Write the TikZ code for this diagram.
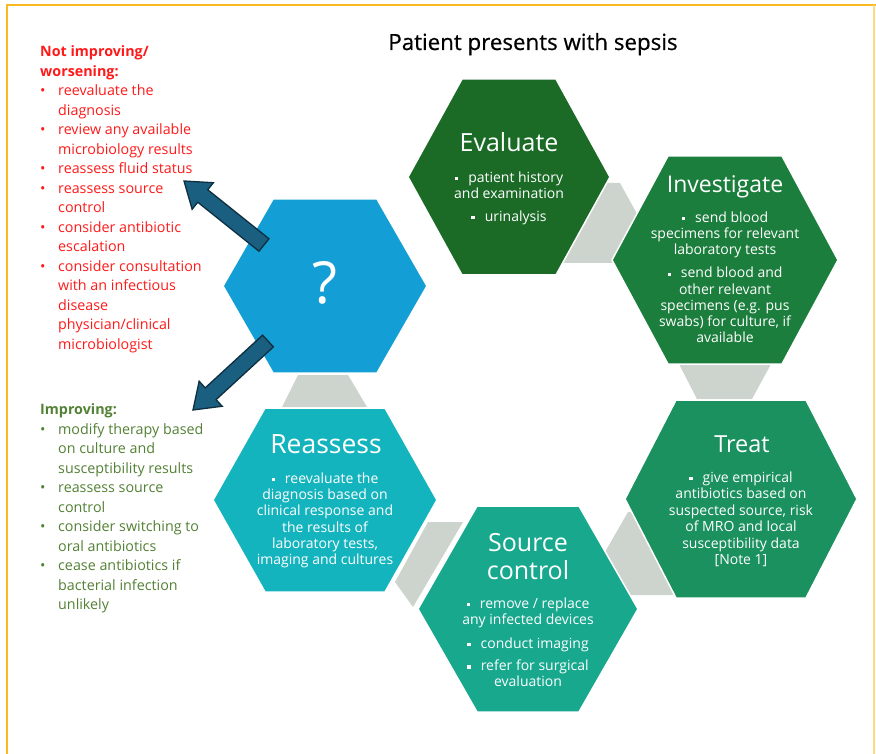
\documentclass[tikz,border=0pt]{standalone}
\usepackage{fontspec}
\setmainfont{Open Sans}
\usetikzlibrary{calc}
\definecolor{evalc}{HTML}{1B6B27}
\definecolor{invc}{HTML}{1C7E3D}
\definecolor{treatc}{HTML}{1A915E}
\definecolor{srcc}{HTML}{17A88E}
\definecolor{reac}{HTML}{14B4BF}
\definecolor{qc}{HTML}{139FD6}
\definecolor{gryc}{HTML}{CDD3CD}
\definecolor{arrc}{HTML}{1A5E80}
\definecolor{arrd}{HTML}{0E2F40}
\definecolor{redt}{HTML}{FF1A1A}
\definecolor{grnt}{HTML}{538135}
\definecolor{framec}{HTML}{FBB920}
\newcommand{\sqb}{\raisebox{0.25ex}{\rule{3.4pt}{3.4pt}}\hspace{10pt}}
\newcommand{\hexagonat}[7]{%
  \path[fill=#7, draw=white, line width=1.5pt] ({#2-#4},#3) -- ({#2-#6},{#3-#5}) -- ({#2+#6},{#3-#5}) -- ({#2+#4},#3) -- ({#2+#6},{#3+#5}) -- ({#2-#6},{#3+#5}) -- cycle;
  \node[inner sep=0pt, minimum width={2*#4pt}, minimum height={2*#5pt}] (#1) at (#2,#3) {};
}
\tikzset{
  hextitle/.style={text=white, inner sep=0pt, font=\fontsize{23}{27.5}\selectfont, align=center},
  hexbody/.style={text=white, inner sep=0pt, anchor=north, align=center, font=\fontsize{14}{16.25}\selectfont},
  listtext/.style={inner sep=0pt, anchor=north west, font=\fontsize{14.3}{19.5}\selectfont},
  grayconn/.style={fill=gryc},
  blockarrow/.style={fill=arrc, draw=arrd, line width=1.3pt, line join=miter},
  frameline/.style={draw=framec, line width=2.6pt}
}
\begin{document}
\begin{tikzpicture}[x=1pt,y=-1pt]
\useasboundingbox (0,0) rectangle (876,754);
\fill[white] (0,0) rectangle (876,754);
% frame
\draw[frameline] (7,754) -- (7,5) -- (876,5);
\draw[draw=framec!55, line width=1.2pt] (874,5) -- (874,754);

% title
\node[inner sep=0pt, anchor=base, font={\fontsize{22.3}{26}\selectfont\addfontfeatures{FakeBold=0.6}}] (title) at (533,50) {Patient presents with sepsis};

% gray connectors behind hexagons
\fill[grayconn] (562,263) -- (607,183) -- (620,183) -- (642,223) -- (620,263) -- cycle;
\fill[grayconn] (679,364) -- (771,364) -- (752,399) -- (697,399) -- cycle;
\fill[grayconn] (628,512) -- (640,512) -- (690,595) -- (622,595) -- (605,552) -- cycle;
\fill[grayconn] (428,522) -- (463,522) -- (413,607) -- (395,582) -- cycle;
\fill[grayconn] (298,375) -- (348,375) -- (367,407) -- (282,407) -- cycle;

% hexagons
\hexagonat{eval}{509}{177}{101}{98}{47}{evalc}
\hexagonat{inv}{725}{260}{113}{104}{57}{invc}
\hexagonat{treat}{741}{499}{116}{99}{65}{treatc}
\hexagonat{src}{528}{609}{110}{103}{51}{srcc}
\hexagonat{rea}{325}{500}{112}{92}{60}{reac}
\hexagonat{q}{325}{286}{102}{87}{52}{qc}

% hexagon texts
\node[hextitle, anchor=base, font=\fontsize{25}{28}\selectfont] (evalt) at (509,152) {Evaluate};
\node[hexbody] (evalb) at (509,171.5) {\sqb patient history\\and examination\\[6.5pt]\sqb urinalysis};

\node[hextitle, anchor=base] (invt) at (725,193) {Investigate};
\node[hexbody] (invb) at (725,211.5) {\sqb send blood\\specimens for relevant\\laboratory tests\\[6.75pt]\sqb send blood and\\other relevant\\specimens (e.g. pus\\swabs) for culture, if\\available};

\node[hextitle, anchor=base, font=\fontsize{23.5}{28}\selectfont] (treatt) at (742,452) {Treat};
\node[hexbody, font=\fontsize{14}{16.5}\selectfont] (treatb) at (741,471.5) {\sqb give empirical\\antibiotics based on\\suspected source, risk\\of MRO and local\\susceptibility data\\{[Note 1]}};

\node[hextitle, anchor=north, font=\fontsize{25}{28}\selectfont] (srct) at (528,533.5) {Source\\control};
\node[hexbody] (srcb) at (528,597.5) {\sqb remove / replace\\any infected devices\\[7.5pt]\sqb conduct imaging\\[6pt]\sqb refer for surgical\\evaluation};

\node[hextitle, anchor=base, font=\fontsize{26.5}{30}\selectfont] (reat) at (326,453) {Reassess};
\node[hexbody] (reab) at (325,472.5) {\sqb reevaluate the\\diagnosis based on\\clinical response and\\the results of\\laboratory tests,\\imaging and cultures};

\node[text=white, inner sep=0pt, anchor=base, font=\fontsize{58}{60}\selectfont] (qt) at (325,304) {?};

% left lists
\node[listtext, text=redt] (worse) at (40,43) {%
\begin{tabular}{@{}p{18pt}@{}l@{}}
\multicolumn{2}{@{}l@{}}{\bfseries Not improving/}\\
\multicolumn{2}{@{}l@{}}{\bfseries worsening:}\\
• & reevaluate the\\
  & diagnosis\\
• & review any available\\
  & microbiology results\\
• & reassess fluid status\\
• & reassess source\\
  & control\\
• & consider antibiotic\\
  & escalation\\
• & consider consultation\\
  & with an infectious\\
  & disease\\
  & physician/clinical\\
  & microbiologist
\end{tabular}};

\node[listtext, text=grnt] (better) at (40,401) {%
\begin{tabular}{@{}p{18pt}@{}l@{}}
\multicolumn{2}{@{}l@{}}{\bfseries Improving:}\\
• & modify therapy based\\
  & on culture and\\
  & susceptibility results\\
• & reassess source\\
  & control\\
• & consider switching to\\
  & oral antibiotics\\
• & cease antibiotics if\\
  & bacterial infection\\
  & unlikely
\end{tabular}};

% block arrows from the ? hexagon
\coordinate (a1t) at (264,245);
\coordinate (a1p) at (184,181);
\coordinate (a1h) at ($(a1p)!24pt!(a1t)$);
\draw[blockarrow] ($(a1t)!8pt!90:(a1p)$) -- ($(a1h)!8pt!90:(a1p)$) -- ($(a1h)!17pt!90:(a1p)$) -- (a1p) -- ($(a1h)!17pt!-90:(a1p)$) -- ($(a1h)!8pt!-90:(a1p)$) -- ($(a1t)!8pt!-90:(a1p)$) -- cycle;

\coordinate (a2t) at (268,341);
\coordinate (a2p) at (193,410);
\coordinate (a2h) at ($(a2p)!24pt!(a2t)$);
\draw[blockarrow] ($(a2t)!8pt!90:(a2p)$) -- ($(a2h)!8pt!90:(a2p)$) -- ($(a2h)!17pt!90:(a2p)$) -- (a2p) -- ($(a2h)!17pt!-90:(a2p)$) -- ($(a2h)!8pt!-90:(a2p)$) -- ($(a2t)!8pt!-90:(a2p)$) -- cycle;
\end{tikzpicture}
\end{document}
